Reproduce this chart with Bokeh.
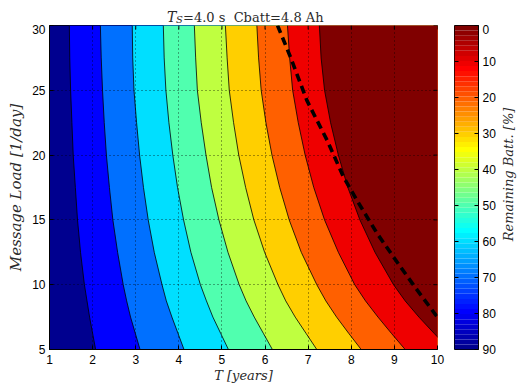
import math

from bokeh.core.properties import value
from bokeh.embed import file_html
from bokeh.layouts import column, row
from bokeh.models import ColumnDataSource, FixedTicker, Range1d
from bokeh.plotting import figure
from bokeh.resources import INLINE

# Remaining battery contour levels [%]
levels = [90, 80, 70, 60, 50, 40, 30, 20, 10]
# Message load rows [1/day] at which the contour crossings are tabulated
load_rows = [5, 6.25, 7.5, 8.75, 10, 12.5, 15, 17.5, 20, 22.5, 25, 27.5, 30]
# Lifetime T [years] at which each level is crossed, ordered like load_rows
t_90 = [2.07, 2.00, 1.93, 1.87, 1.81, 1.72, 1.65, 1.60, 1.55, 1.52, 1.49, 1.47, 1.46]
t_80 = [3.10, 2.99, 2.88, 2.79, 2.71, 2.58, 2.47, 2.39, 2.32, 2.27, 2.23, 2.20, 2.18]
t_70 = [4.12, 3.98, 3.84, 3.71, 3.61, 3.43, 3.29, 3.18, 3.09, 3.02, 2.96, 2.93, 2.92]
t_60 = [5.15, 4.97, 4.79, 4.64, 4.50, 4.28, 4.11, 3.97, 3.86, 3.77, 3.70, 3.66, 3.64]
t_50 = [6.17, 5.96, 5.75, 5.56, 5.40, 5.14, 4.93, 4.76, 4.63, 4.52, 4.43, 4.39, 4.36]
t_40 = [7.20, 6.95, 6.70, 6.48, 6.30, 5.99, 5.74, 5.55, 5.39, 5.27, 5.17, 5.12, 5.08]
t_30 = [8.23, 7.94, 7.66, 7.41, 7.20, 6.84, 6.56, 6.34, 6.16, 6.02, 5.91, 5.85, 5.81]
t_20 = [9.25, 8.93, 8.62, 8.33, 8.08, 7.70, 7.38, 7.13, 6.93, 6.77, 6.64, 6.57, 6.52]
t_10 = [10.28, 9.92, 9.57, 9.25, 8.98, 8.55, 8.20, 7.92, 7.70, 7.52, 7.38, 7.30, 7.26]
contours_t = [t_90, t_80, t_70, t_60, t_50, t_40, t_30, t_20, t_10]

# Dashed lifetime curve
dash_t = [6.29, 6.59, 6.97, 7.44, 7.82, 8.13, 8.60, 9.14, 9.53, 9.99]
dash_load = [30.0, 27.56, 24.22, 21.14, 18.31, 16.52, 13.95, 11.38, 9.58, 7.53]

x_ticks = [1, 2, 3, 4, 5, 6, 7, 8, 9, 10]
y_ticks = [5, 10, 15, 20, 25, 30]
cbar_ticks = [0, 10, 20, 30, 40, 50, 60, 70, 80, 90]
batt_min, batt_max = 0, 90
t_min, t_max = 1, 10
load_min, load_max = 5, 30


def jet(m):
    """MATLAB-style jet colormap with m entries, as hex strings."""
    n = math.ceil(m / 4)
    u = [i / n for i in range(1, n + 1)] + [1.0] * (n - 1) + [i / n for i in range(n, 0, -1)]
    g0 = math.ceil(n / 2) - (1 if m % 4 == 1 else 0)
    cmap = [[0.0, 0.0, 0.0] for _ in range(m)]
    for k, val in enumerate(u):
        g = g0 + k + 1
        r, b = g + n, g - n
        if 1 <= r <= m:
            cmap[r - 1][0] = val
        if 1 <= g <= m:
            cmap[g - 1][1] = val
        if 1 <= b <= m:
            cmap[b - 1][2] = val
    return ["#%02x%02x%02x" % tuple(int(round(c * 255)) for c in rgb) for rgb in cmap]


JET = jet(64)


def batt_color(v):
    # 0 % maps to the red end, 90 % to the blue end
    t = (batt_max - v) / (batt_max - batt_min)
    return JET[min(len(JET) - 1, max(0, int(t * len(JET))))]


FONT_TICK = "Liberation Sans"
FONT_TEX = "DejaVu Serif"
TEXT_COLOR = "#2a2a2a"


def bare_figure(width, height, x_range, y_range):
    f = figure(width=width, height=height, x_range=x_range, y_range=y_range,
               output_backend="svg", toolbar_location=None,
               x_axis_location=None, y_axis_location=None, min_border=0)
    f.outline_line_color = None
    f.grid.visible = False
    return f


# ---------------- title strip ----------------
title_fig = bare_figure(519, 24, Range1d(0, 519), Range1d(0, 24))
title_fig.text(x=[166.5], y=[7.5], text=["T"], text_font=value(FONT_TEX), text_font_style="italic",
               text_font_size="14px", text_color=TEXT_COLOR, text_baseline="alphabetic")
title_fig.text(x=[175.5], y=[5.0], text=["S"], text_font=value(FONT_TEX), text_font_style="italic",
               text_font_size="10px", text_color=TEXT_COLOR, text_baseline="alphabetic")
title_fig.text(x=[182.5], y=[7.5], text=["=4.0 s\u00a0\u00a0Cbatt=4.8 Ah"], text_font=value(FONT_TEX),
               text_font_size="13px", text_color=TEXT_COLOR, text_baseline="alphabetic")

# ---------------- main contour plot ----------------
p = figure(
    width=445, height=361,
    x_range=Range1d(t_min, t_max), y_range=Range1d(load_min, load_max),
    output_backend="svg", toolbar_location=None,
    min_border_left=49, min_border_right=8, min_border_top=1, min_border_bottom=35,
)
p.background_fill_color = "white"
p.outline_line_color = "black"
p.outline_line_width = 1
p.outline_line_alpha = 1.0

# Filled bands: the region to the right of each contour is painted over
# the previous one, from the highest level down to the lowest.
far_left, far_right = t_min - 2, t_max + 2
xs = [[far_left, far_right, far_right, far_left]]
ys = [[load_min, load_min, load_max, load_max]]
colors = [batt_color(levels[0])]
for lev, ct in zip(levels, contours_t):
    xs.append(list(ct) + [far_right, far_right])
    ys.append(list(load_rows) + [load_rows[-1], load_rows[0]])
    colors.append(batt_color(lev - 10))
p.patches(xs="xs", ys="ys", fill_color="color", line_color=None,
          source=ColumnDataSource(dict(xs=xs, ys=ys, color=colors)))

# Contour lines
p.multi_line(xs=[list(c) for c in contours_t], ys=[list(load_rows)] * len(contours_t),
             line_color="black", line_width=0.8)

# Dashed curve
p.line(dash_t, dash_load, line_color="black", line_width=3.6, line_dash="8 5")

# Axes
for ax in (p.xaxis[0], p.yaxis[0]):
    ax.axis_line_color = "black"
    ax.major_tick_in = 4
    ax.major_tick_out = 0
    ax.major_tick_line_color = "black"
    ax.minor_tick_line_color = None
    ax.major_label_text_font = FONT_TICK
    ax.major_label_text_font_size = "12px"
    ax.major_label_text_color = "black"
    ax.axis_label_text_font = FONT_TEX
    ax.axis_label_text_font_style = "italic"
    ax.axis_label_text_color = TEXT_COLOR
p.xaxis.ticker = FixedTicker(ticks=x_ticks)
p.yaxis.ticker = FixedTicker(ticks=y_ticks)
p.xaxis.major_label_standoff = 5
p.yaxis.major_label_standoff = 4
p.xaxis.axis_label = "T [years]"
p.yaxis.axis_label = "Message Load [1/day]"
p.xaxis.axis_label_text_font_size = "13px"
p.yaxis.axis_label_text_font_size = "15px"
p.xaxis.axis_label_standoff = 1
p.yaxis.axis_label_standoff = 4

# Inward ticks along the top and right edges of the box
tick_dx = (t_max - t_min) * 4 / 387.5
tick_dy = (load_max - load_min) * 4 / 325
p.segment(x0=x_ticks, y0=[load_max] * len(x_ticks), x1=x_ticks, y1=[load_max - tick_dy] * len(x_ticks),
          line_color="black", line_width=1)
p.segment(x0=[t_max] * len(y_ticks), y0=y_ticks, x1=[t_max - tick_dx] * len(y_ticks), y1=y_ticks,
          line_color="black", line_width=1)

# Dotted grid drawn over the filled bands
for grid, ticks in ((p.xgrid[0], x_ticks), (p.ygrid[0], y_ticks)):
    grid.ticker = FixedTicker(ticks=ticks)
    grid.grid_line_color = "black"
    grid.grid_line_alpha = 0.7
    grid.grid_line_dash = "1 3"
    grid.grid_line_width = 1
    grid.level = "annotation"

# ---------------- colour bar ----------------
cb = figure(
    width=53, height=361,
    x_range=Range1d(0, 1), y_range=Range1d(batt_max, batt_min),
    output_backend="svg", toolbar_location=None, y_axis_location="right",
    min_border_left=9, min_border_right=20, min_border_top=0, min_border_bottom=35,
)
cb.outline_line_color = "black"
cb.outline_line_width = 1
cb.outline_line_alpha = 1.0
cb.xaxis.visible = False
cb.grid.visible = False
step = (batt_max - batt_min) / len(JET)
bottoms = [batt_max - i * step for i in range(len(JET))]
tops = [batt_max - (i + 1) * step for i in range(len(JET))]
cb.quad(left=0, right=1, bottom=bottoms, top=tops, fill_color=JET, line_color=None)
ya = cb.yaxis[0]
ya.ticker = FixedTicker(ticks=cbar_ticks)
ya.axis_line_color = "black"
ya.major_tick_in = 4
ya.major_tick_out = 0
ya.minor_tick_line_color = None
ya.major_label_text_font = FONT_TICK
ya.major_label_text_font_size = "12px"
ya.major_label_text_color = "black"
ya.major_label_standoff = 4
# ticks on the left edge of the bar as well
cb.segment(x0=[0] * len(cbar_ticks), y0=cbar_ticks, x1=[4 / 24] * len(cbar_ticks), y1=cbar_ticks,
           line_color="black", line_width=1)

# ---------------- colour bar caption ----------------
cap = bare_figure(21, 361, Range1d(0, 21), Range1d(0, 361))
cap.text(x=[9.5], y=[195], text=["Remaining Batt. [%]"], angle=math.pi / 2,
         text_font=value(FONT_TEX), text_font_style="italic", text_font_size="13px",
         text_color=TEXT_COLOR, text_align="center", text_baseline="middle")

layout = column(title_fig, row(p, cb, cap))
open("out.html", "w").write(file_html(layout, INLINE))
